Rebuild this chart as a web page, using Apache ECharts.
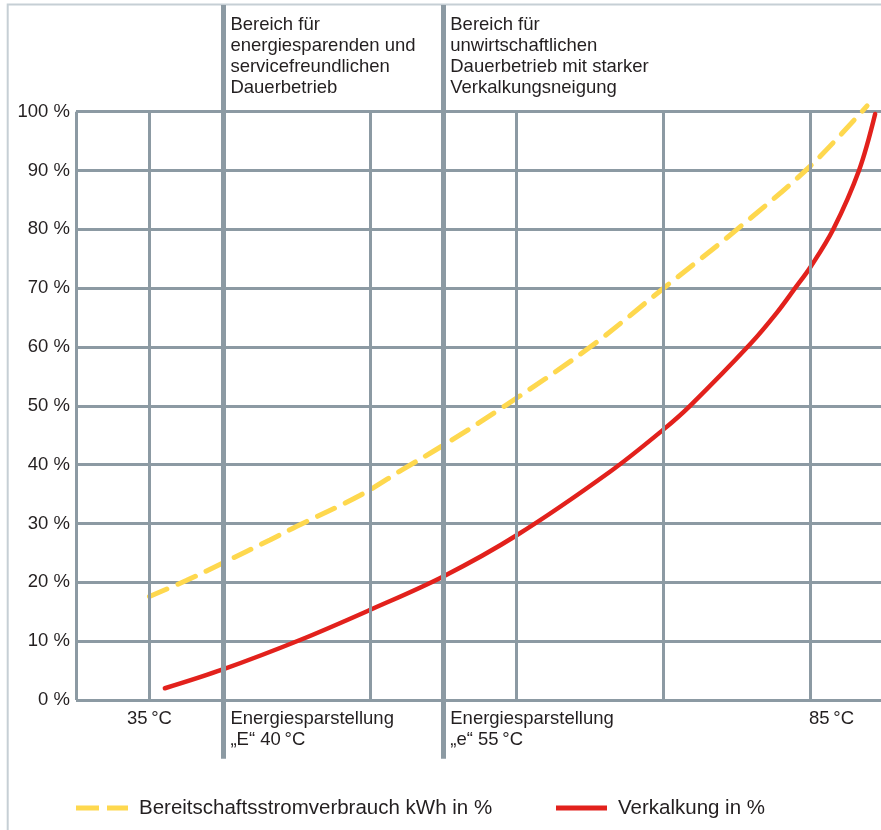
<!DOCTYPE html>
<html>
<head>
<meta charset="utf-8">
<script src="https://cdn.jsdelivr.net/npm/echarts@6/dist/echarts.min.js"></script>
<style>
  html, body { margin: 0; padding: 0; background: #ffffff; }
  #chart { width: 881px; height: 830px; }
</style>
</head>
<body>
<div id="chart"></div>
<script>
// Horizontal scale: one unit per temperature grid column
const thinColumns = [0, 1, 4, 6, 8, 10];   // thin vertical rules
const modeColumns = [2, 5];                // thick rules at the Energiesparstellung settings

// Standby energy use (kWh, in %) against grid position
const standbyPos = [1.0, 1.5, 2.0, 2.64, 3.0, 3.87, 4.45, 5.0, 5.84, 7.0, 8.0, 9.0, 10.0, 10.77];
const standbyPct = [17.6, 20.3, 23.3, 27.2, 29.5, 34.8, 39.2, 43.3, 50.0, 60.0, 70.0, 80.0, 90.8, 101.0];

// Scaling (Verkalkung, in %) against grid position
const scalingPos = [1.21, 2.0, 3.05, 4.0, 5.0, 6.0, 7.27, 8.0, 8.36, 9.18, 9.54, 9.79, 10.0, 10.31, 10.66, 10.88];
const scalingPct = [2.0, 5.2, 10.2, 15.3, 21.0, 28.0, 38.8, 46.0, 50.0, 60.5, 65.8, 70.0, 73.6, 80.0, 90.0, 99.6];

// Texts
const seriesNames = ['Bereitschaftsstromverbrauch kWh in %', 'Verkalkung in %'];
const zoneTexts = [
  'Bereich für\nenergiesparenden und\nservicefreundlichen\nDauerbetrieb',
  'Bereich für\nunwirtschaftlichen\nDauerbetrieb mit starker\nVerkalkungsneigung'
];
const tempTexts = [
  '35\u2009°C',
  'Energiesparstellung\n„E“ 40\u2009°C',
  'Energiesparstellung\n„e“ 55\u2009°C',
  '85\u2009°C'
];

// ---- layout ----
const W = 881, H = 830;
const FONT = "'Liberation Sans', Arial, Helvetica, sans-serif";
const TEXT = '#231f20';
const RULE = '#8c9aa3';
const FRAME = '#c6cfd5';
const YELLOW = '#fed84e';
const RED = '#e2211c';

const X_MAX = 11;
const COLUMN_PX = 73.45;
const PLOT_LEFT = 76;
const PLOT_WIDTH = X_MAX * COLUMN_PX;
const PLOT_TOP = 111.7, PLOT_BOTTOM_Y = 700;          // pixel rows of 100 % and 0 %
const pxPerPct = (PLOT_BOTTOM_Y - PLOT_TOP) / 100;
const OUTER_TOP = 5;                                   // top frame row
const OUTER_MIN = -10;                                 // thick rules reach this value below 0 %
const OUTER_MAX = 100 + (PLOT_TOP - OUTER_TOP) / pxPerPct;
const OUTER_BOTTOM_Y = PLOT_BOTTOM_Y - OUTER_MIN * pxPerPct;

const zip = (xs, ys) => xs.map((x, i) => [x, ys[i]]);

const hiddenX = (gridIndex) => ({ type: 'value', gridIndex, min: 0, max: X_MAX, show: false });

function ruleLine(x, y0, y1) {
  return [{ coord: [x, y0] }, { coord: [x, y1] }];
}

function areaLabel(x0, y0, x1, y1, text, label) {
  return [
    { coord: [x0, y0], label: Object.assign({
        show: true, formatter: text, color: TEXT, fontFamily: FONT,
        fontSize: 18.5, lineHeight: 21, distance: 0 }, label) },
    { coord: [x1, y1] }
  ];
}

const option = {
  animation: false,
  backgroundColor: '#ffffff',
  textStyle: { fontFamily: FONT, color: TEXT },
  grid: [
    // main plot (its last column runs past the right edge of the canvas)
    { left: PLOT_LEFT, width: PLOT_WIDTH, top: PLOT_TOP, height: PLOT_BOTTOM_Y - PLOT_TOP,
      containLabel: false, outerBoundsMode: 'none' },
    // full-height band for the thick rules and zone texts
    { left: PLOT_LEFT, width: PLOT_WIDTH, top: OUTER_TOP, height: OUTER_BOTTOM_Y - OUTER_TOP,
      containLabel: false, outerBoundsMode: 'none' },
    // outer frame (top and left edge; right and bottom fall outside)
    { left: 7.7, top: OUTER_TOP - 0.5, width: 1000, height: 1000, show: true,
      borderColor: FRAME, borderWidth: 2, backgroundColor: 'transparent',
      containLabel: false, outerBoundsMode: 'none' }
  ],
  xAxis: [hiddenX(0), hiddenX(1), hiddenX(2)],
  yAxis: [
    {
      type: 'value', gridIndex: 0, min: 0, max: 100, interval: 10,
      axisLine: { show: false }, axisTick: { show: false },
      axisLabel: {
        formatter: '{value} %', color: TEXT, fontFamily: FONT, fontSize: 18.5,
        margin: 6, padding: [0, 0, 7, 0]
      },
      splitLine: { show: true, lineStyle: { color: RULE, width: 3 } }
    },
    { type: 'value', gridIndex: 1, min: OUTER_MIN, max: OUTER_MAX, show: false },
    { type: 'value', gridIndex: 2, min: 0, max: 1, show: false }
  ],
  legend: [
    {
      data: [{ name: seriesNames[0], icon: 'path://M0,0H23V5H0Z M31,0H52V5H31Z' }],
      left: PLOT_LEFT, top: 797.5, padding: 0, itemWidth: 52, itemHeight: 5,
      itemStyle: { borderWidth: 0 },
      textStyle: { fontSize: 20.5, color: TEXT, fontFamily: FONT, padding: [0, 0, 7, 6] },
      selectedMode: false
    },
    {
      data: [{ name: seriesNames[1], icon: 'rect' }],
      left: 556, top: 797.5, padding: 0, itemWidth: 51, itemHeight: 5,
      itemStyle: { borderWidth: 0 },
      textStyle: { fontSize: 20.5, color: TEXT, fontFamily: FONT, padding: [0, 0, 7, 6] },
      selectedMode: false
    }
  ],
  series: [
    {
      // thin vertical rules inside the plot
      name: 'rules', type: 'line', xAxisIndex: 0, yAxisIndex: 0, data: [], silent: true, z: 1,
      markLine: {
        silent: true, symbol: ['none', 'none'], label: { show: false },
        lineStyle: { color: RULE, width: 3, type: 'solid' },
        data: thinColumns.map(x => ruleLine(x, 0, 100))
      }
    },
    {
      // thick rules, zone texts and temperature texts
      name: 'zones', type: 'line', xAxisIndex: 1, yAxisIndex: 1, data: [], silent: true, z: 1,
      markLine: {
        silent: true, symbol: ['none', 'none'], label: { show: false },
        lineStyle: { color: RULE, width: 5, type: 'solid' },
        data: modeColumns.map(x => ruleLine(x, OUTER_MIN, OUTER_MAX))
      },
      markArea: {
        silent: true,
        itemStyle: { color: 'rgba(0,0,0,0)' },
        data: [
          areaLabel(modeColumns[0], 100, modeColumns[1], OUTER_MAX, zoneTexts[0],
            { position: 'insideTopLeft', padding: [9.4, 0, 0, 7.5] }),
          areaLabel(modeColumns[1], 100, X_MAX, OUTER_MAX, zoneTexts[1],
            { position: 'insideTopLeft', padding: [9.4, 0, 0, 7] }),
          areaLabel(0, 0, 2, OUTER_MIN, tempTexts[0],
            { position: 'insideTop', padding: [8, 0, 0, 0], lineHeight: 21.5 }),
          areaLabel(modeColumns[0], 0, modeColumns[1], OUTER_MIN, tempTexts[1],
            { position: 'insideTopLeft', padding: [8, 0, 0, 7.5], lineHeight: 21.5 }),
          areaLabel(modeColumns[1], 0, 10, OUTER_MIN, tempTexts[2],
            { position: 'insideTopLeft', padding: [8, 0, 0, 7], lineHeight: 21.5 }),
          areaLabel(10, 0, X_MAX, OUTER_MIN, tempTexts[3],
            { position: 'insideTopLeft', padding: [8, 0, 0, 0], lineHeight: 21.5, offset: [-1.5, 0] })
        ]
      }
    },
    {
      name: seriesNames[0], type: 'line', xAxisIndex: 0, yAxisIndex: 0, z: 3,
      data: zip(standbyPos, standbyPct),
      smooth: 0.35, showSymbol: false, clip: false,
      itemStyle: { color: YELLOW },
      lineStyle: { color: YELLOW, width: 5, type: [19, 12], cap: 'round' }
    },
    {
      name: seriesNames[1], type: 'line', xAxisIndex: 0, yAxisIndex: 0, z: 4,
      data: zip(scalingPos, scalingPct),
      smooth: 0.35, showSymbol: false, clip: false,
      itemStyle: { color: RED },
      lineStyle: { color: RED, width: 4.5, cap: 'round' }
    }
  ]
};

const chart = echarts.init(document.getElementById('chart'), null, { renderer: 'canvas', width: W, height: H });
chart.setOption(option);
</script>
</body>
</html>
